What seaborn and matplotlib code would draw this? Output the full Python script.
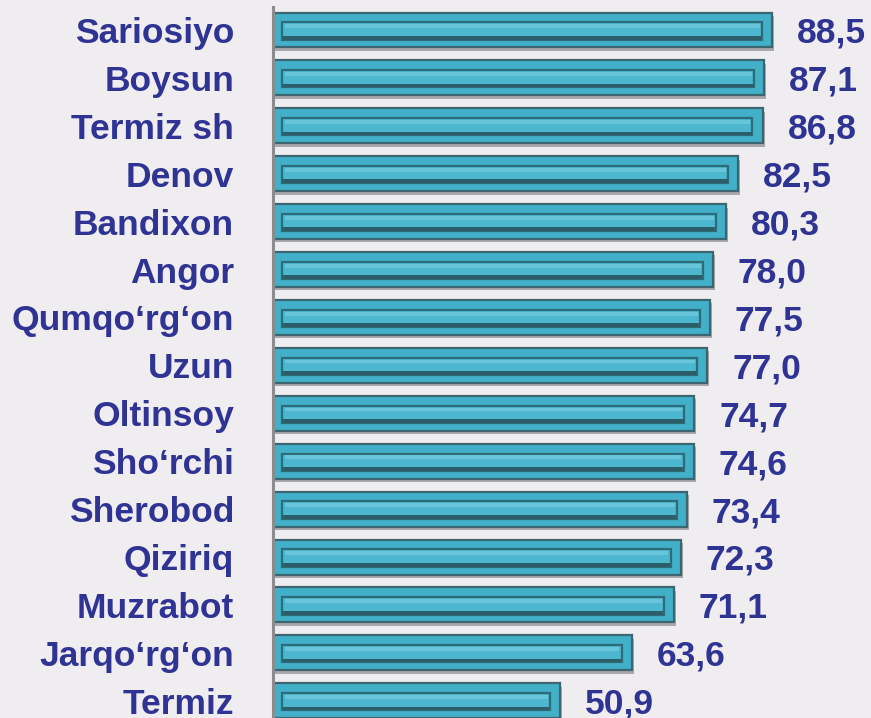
import numpy as np
import pandas as pd
import matplotlib
matplotlib.use("Agg")
import matplotlib.pyplot as plt
import seaborn as sns

districts = ["Sariosiyo", "Boysun", "Termiz sh", "Denov", "Bandixon", "Angor",
             "Qumqo\u2018rg\u2018on", "Uzun", "Oltinsoy", "Sho\u2018rchi", "Sherobod",
             "Qiziriq", "Muzrabot", "Jarqo\u2018rg\u2018on", "Termiz"]
values = [88.5, 87.1, 86.8, 82.5, 80.3, 78.0, 77.5, 77.0, 74.7, 74.6, 73.4,
          72.3, 71.1, 63.6, 50.9]

df = pd.DataFrame({"district": districts, "value": values})

sns.set_theme(style="white")
plt.rcParams["font.family"] = ["Liberation Sans", "DejaVu Sans"]

bg = "#EFEDEF"
text_col = "#2E3394"
fsize = 25.5

fig = plt.figure(figsize=(8.71, 7.18), dpi=100, facecolor=bg)
ax = fig.add_axes([0.3134, 0.0, 0.68, 1.0], facecolor=bg)

pos = np.arange(len(values))

# soft drop shadow behind each bar
ax.barh(pos + 0.07, df["value"] + 0.35, height=0.73, color="#A9A9AD",
        linewidth=0, zorder=1)

sns.barplot(data=df, x="value", y="district", orient="h", ax=ax,
            color="#42B0C9", saturation=1, width=0.73,
            edgecolor="#3E6670", linewidth=1.6, zorder=2)

# inner bevel groove
ax.barh(pos + 0.02, df["value"] - 3.4, left=1.6, height=0.36,
        color="#4CB7CE", edgecolor="#2E6A77", linewidth=1.6, zorder=3)
ax.barh(pos + 0.16, df["value"] - 3.6, left=1.7, height=0.08,
        color="#2C5E6A", linewidth=0, zorder=4)
ax.barh(pos - 0.08, df["value"] - 4.4, left=2.2, height=0.08,
        color="#68C6DA", linewidth=0, zorder=4)

# value labels, right of each bar
for i, v in enumerate(values):
    ax.text(v + 4.4, i + 0.27, f"{v:.1f}".replace(".", ","), ha="left",
            va="baseline", fontsize=fsize, fontweight="bold", color=text_col)

ax.set_xlim(0, 105)
ax.set_ylim(14.36, -0.626)
ax.set_xlabel("")
ax.set_ylabel("")
ax.set_xticks([])
ax.tick_params(axis="y", length=0, pad=28)
for lbl in ax.get_yticklabels():
    lbl.set_fontsize(fsize)
    lbl.set_fontweight("bold")
    lbl.set_color(text_col)

for s in ["top", "right", "bottom"]:
    ax.spines[s].set_visible(False)
ax.spines["left"].set_color("#8C8C8C")
ax.spines["left"].set_linewidth(2.2)
ax.spines["left"].set_bounds(14.36, -0.48)

fig.savefig("out.png", dpi=100, facecolor=bg)
